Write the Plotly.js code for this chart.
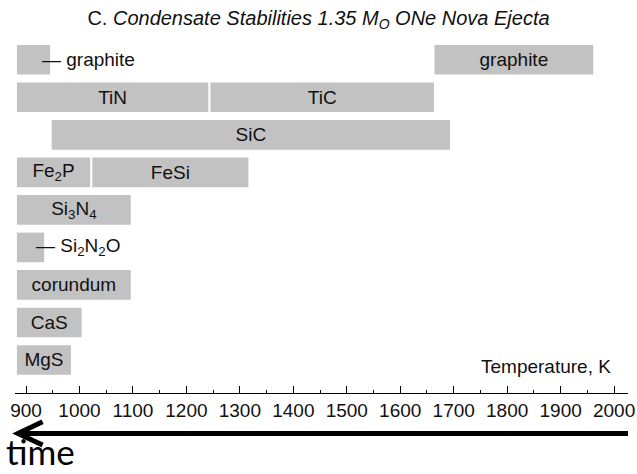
<!DOCTYPE html>
<html>
<head>
<meta charset="utf-8">
<script src="https://cdn.plot.ly/plotly-3.0.1.min.js"></script>
<style>
  html, body { margin: 0; padding: 0; background: #ffffff; }
  #chart { width: 637px; height: 474px; }
</style>
</head>
<body>
<div id="chart"></div>
<script>
// Condensate stability ranges (K), one segment per phase.
const phases   = ['graphite', 'graphite', 'TiN', 'TiC', 'SiC', 'Fe<sub>2</sub>P', 'FeSi',
                  'Si<sub>3</sub>N<sub>4</sub>', 'Si<sub>2</sub>N<sub>2</sub>O', 'corundum', 'CaS', 'MgS'];
const rows     = [8, 8, 7, 7, 6, 5, 5, 4, 3, 2, 1, 0];
const tStart   = [883, 1664, 883, 1245, 948, 883, 1024, 883, 883, 883, 883, 883];
const tEnd     = [945, 1961, 1241, 1663, 1693, 1020, 1316, 1096, 934, 1096, 1004, 984];
// Segments too narrow for their name carry it outside with a leader dash.
const outside  = [true, false, false, false, false, false, false, false, true, false, false, false];

const tempTicks = [900, 1000, 1100, 1200, 1300, 1400, 1500, 1600, 1700, 1800, 1900, 2000];

const widths = tEnd.map((e, i) => e - tStart[i]);
const inText = phases.map((p, i) => outside[i] ? '' : p);

const bars = {
  type: 'bar',
  orientation: 'h',
  y: rows,
  x: widths,
  base: tStart,
  width: 0.79,
  marker: { color: '#c2c2c2', line: { width: 0 } },
  text: inText,
  textposition: 'inside',
  insidetextanchor: 'middle',
  textangle: 0,
  textfont: { family: 'Liberation Sans, Arial, sans-serif', size: 19, color: '#111111' },
  constraintext: 'none',
  hoverinfo: 'skip'
};

const labelFont = { family: 'Liberation Sans, Arial, sans-serif', size: 19, color: '#111111' };

const annotations = [];
phases.forEach((p, i) => {
  if (outside[i]) {
    annotations.push({
      x: tEnd[i], y: rows[i], xref: 'x', yref: 'y',
      text: '\u2014 ' + p, showarrow: false,
      xanchor: 'left', yanchor: 'middle', xshift: -10,
      font: labelFont
    });
  }
});
annotations.push({
  x: 1, y: 0.075, xref: 'paper', yref: 'paper', xshift: -15,
  text: 'Temperature, K', showarrow: false,
  xanchor: 'right', yanchor: 'middle', font: labelFont
});
annotations.push({
  x: -0.018, y: -0.229, xref: 'paper', yref: 'paper',
  text: 'time', showarrow: false,
  xanchor: 'left', yanchor: 'bottom',
  font: { family: 'Lato, Open Sans, sans-serif', size: 35, color: '#000000' }
});

// Time arrow running from hot to cool, drawn under the temperature scale.
const arrowY = -0.115;
const shapes = [
  { type: 'line', xref: 'paper', yref: 'paper', x0: 1.0, x1: 0.01, y0: arrowY, y1: arrowY,
    line: { color: '#000000', width: 5 } },
  { type: 'path', xref: 'paper', yref: 'paper',
    path: 'M 0.045,-0.082 L 0.0049,' + arrowY + ' L 0.045,-0.148',
    line: { color: '#000000', width: 5 } }
];

const layout = {
  width: 637,
  height: 474,
  margin: { l: 15, r: 9, t: 41, b: 81 },
  paper_bgcolor: '#ffffff',
  plot_bgcolor: '#ffffff',
  showlegend: false,
  bargap: 0.21,
  title: {
    text: 'C. <i>Condensate Stabilities 1.35 M<sub>O</sub> ONe Nova Ejecta</i>',
    x: 0.5, xanchor: 'center', y: 0.963, yanchor: 'middle',
    font: { family: 'Liberation Sans, Arial, sans-serif', size: 20, color: '#111111' }
  },
  xaxis: {
    range: [879.4, 2026],
    tickvals: tempTicks,
    ticktext: tempTicks.map(String),
    ticks: 'inside',
    ticklen: 7,
    tickwidth: 1,
    tickcolor: '#000000',
    minor: { dtick: 100, tick0: 950, ticks: 'inside', ticklen: 3, tickwidth: 1, tickcolor: '#000000' },
    showline: true,
    linecolor: '#000000',
    linewidth: 1,
    showgrid: false,
    zeroline: false,
    tickfont: { family: 'Liberation Sans, Arial, sans-serif', size: 19, color: '#111111' },
    fixedrange: true
  },
  yaxis: {
    range: [-0.88, 8.5],
    showticklabels: false,
    showgrid: false,
    zeroline: false,
    showline: false,
    ticks: '',
    fixedrange: true
  },
  annotations: annotations,
  shapes: shapes
};

Plotly.newPlot('chart', [bars], layout, { displayModeBar: false, staticPlot: true });
</script>
</body>
</html>
